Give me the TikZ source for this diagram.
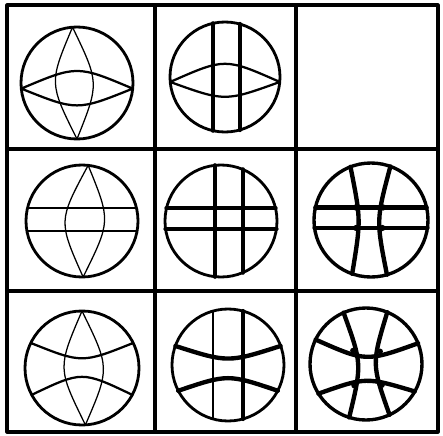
\documentclass[tikz,border=0pt]{standalone}
\usepackage{tikz}

\tikzset{
	gridline/.style = {line width=2.2pt},
	rimline/.style = {line width=2pt},
	fineline/.style = {line width=0.9pt},
	midline/.style = {line width=1.6pt},
	heavyline/.style = {line width=3.1pt},
	blob/.style = {fill = black}
}

\begin{document}
\begin{tikzpicture}[x=0.025cm, y=-0.025cm, line join=round, line cap=round]
	\useasboundingbox (0,0) rectangle (443,436);
	% the frame and the grid
	\draw [gridline, fill = white] (7,5) rectangle (438,432);
	\draw [gridline] (155,5) -- (155,432);
	\draw [gridline] (296,5) -- (296,432);
	\draw [gridline] (7,149) -- (438,149);
	\draw [gridline] (7,291) -- (438,291);
	% row 1
	\begin{scope}[shift={(77,83)}, scale=56]
		\draw [rimline] (0,0) circle (1);
		\draw [fineline] (-0.08,-0.997) .. controls (-0.5,0) .. (0,1) .. controls (0.4,0) .. (-0.08,-0.997);
		\draw [midline] (-0.995,0.1) .. controls (0,-0.32) .. (0.995,0.1) .. controls (0,0.5) .. (-0.995,0.1);
	\end{scope}
	\begin{scope}[shift={(225,77)}, scale=55]
		\draw [rimline] (0,0) circle (1);
		\draw [heavyline] (-0.22,-0.975) -- (-0.22,0.975);
		\draw [heavyline] (0.27,-0.963) -- (0.27,0.963);
		\draw [midline] (-0.996,0.09) .. controls (0,-0.35) .. (0.996,0.09) .. controls (0,0.45) .. (-0.996,0.09);
	\end{scope}
	% row 2
	\begin{scope}[shift={(82,221)}, scale=56]
		\draw [rimline] (0,0) circle (1);
		\draw [midline] (-0.973,-0.23) -- (0.973,-0.23);
		\draw [midline] (-0.984,0.18) -- (0.984,0.18);
		\draw [fineline] (0.11,-0.994) .. controls (-0.425,0) .. (0.02,1) .. controls (0.515,0) .. (0.11,-0.994);
	\end{scope}
	\begin{scope}[shift={(221,221)}, scale=56]
		\draw [rimline] (0,0) circle (1);
		\draw [heavyline] (-0.11,-0.994) -- (-0.11,0.994);
		\draw [heavyline] (0.39,-0.921) -- (0.39,0.921);
		\draw [heavyline] (-0.973,-0.23) -- (0.973,-0.23);
		\draw [heavyline] (-0.99,0.14) -- (0.99,0.14);
	\end{scope}
	\begin{scope}[shift={(371,220)}, scale=57]
		\draw [rimline, line width=2.4pt] (0,0) circle (1);
		\draw [heavyline] (-0.975,-0.22) -- (0.975,-0.22);
		\draw [heavyline] (-0.99,0.14) -- (0.99,0.14);
		\draw [heavyline] (-0.36,-0.933) .. controls (-0.175,0) .. (-0.33,0.944);
		\draw [heavyline] (0.34,-0.94) .. controls (0.09,0) .. (0.28,0.96);
		\foreach \p in {(-0.268,-0.22),(-0.26,0.14),(0.213,-0.22),(0.198,0.14)}
			\fill [blob] \p circle (0.055);
	\end{scope}
	% row 3
	\begin{scope}[shift={(82,368)}, scale=57]
		\draw [rimline] (0,0) circle (1);
		\draw [fineline] (0,-1) .. controls (-0.43,0) .. (0.06,0.998) .. controls (0.49,0) .. (0,-1);
		\draw [midline] (-0.9,-0.44) .. controls (0,-0.08) .. (0.9,-0.44);
		\draw [midline] (-0.88,0.47) .. controls (0,0.05) .. (0.88,0.47);
	\end{scope}
	\begin{scope}[shift={(228,365)}, scale=56]
		\draw [rimline] (0,0) circle (1);
		\draw [midline] (-0.27,-0.963) -- (-0.27,0.963);
		\draw [heavyline] (0.27,-0.963) -- (0.27,0.963);
		\draw [heavyline] (-0.94,-0.34) .. controls (0,-0.04) .. (0.94,-0.34);
		\draw [heavyline] (-0.89,0.46) .. controls (0,0.16) .. (0.89,0.46);
	\end{scope}
	\begin{scope}[shift={(366,364)}, scale=56]
		\draw [rimline, line width=2.4pt] (0,0) circle (1);
		\draw [heavyline] (-0.4,-0.917) .. controls (-0.07,0) .. (-0.3,0.954);
		\draw [heavyline] (0.38,-0.925) .. controls (0.1,0) .. (0.42,0.907);
		\draw [heavyline] (-0.9,-0.436) .. controls (0,-0.037) .. (0.93,-0.37);
		\draw [heavyline] (-0.85,0.53) .. controls (0,0.23) .. (0.87,0.49);
		\foreach \p in {(-0.233,-0.24),(0.253,-0.225),(-0.213,0.384),(0.285,0.378)}
			\fill [blob] \p circle (0.05);
	\end{scope}
\end{tikzpicture}
\end{document}
